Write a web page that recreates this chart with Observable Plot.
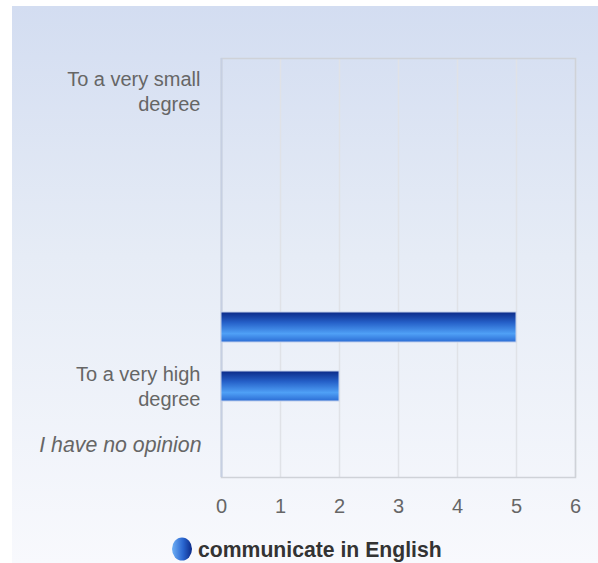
<!DOCTYPE html>
<html>
<head>
<meta charset="utf-8">
<script src="https://cdn.jsdelivr.net/npm/d3@7"></script>
<script src="https://cdn.jsdelivr.net/npm/@observablehq/plot@0.6"></script>
<style>
  html, body { margin: 0; padding: 0; background: #fff; }
  body { width: 598px; height: 563px; position: relative; overflow: hidden; font-family: "Liberation Sans", Arial, sans-serif; }
  #panel { position: absolute; left: 12px; top: 6px; width: 586px; height: 557px;
    background: linear-gradient(to bottom, #d3ddf1 0%, #e6ecf6 45%, #f8f9fd 100%); }
  #chart { position: absolute; left: 0; top: 0; }
  #legend { position: absolute; left: 0; top: 537px; width: 598px; height: 26px; }
</style>
</head>
<body>
<div id="panel"></div>
<div id="chart"></div>
<div id="legend"></div>
<script>
const categories = ["To a very small degree", "2", "3", "4", "5", "To a very high degree", "I have no opinion"];
const labels = ["To a very small\ndegree", "", "", "", "", "To a very high\ndegree", "I have no opinion"];
const values = [0, 0, 0, 0, 5, 2, 0];
const xTicks = [0, 1, 2, 3, 4, 5, 6];
const seriesName = "communicate in English";

const data = categories.map((c, i) => ({category: c, value: values[i]}));
const labelOf = c => labels[categories.indexOf(c)];
const normalCats = categories.filter(c => c !== "I have no opinion");

const plot = Plot.plot({
  width: 598,
  height: 525,
  marginLeft: 221,
  marginRight: 23,
  marginTop: 58,
  marginBottom: 48,
  style: {background: "transparent", fontFamily: "'Liberation Sans', Arial, sans-serif", fontSize: "20px", color: "#666"},
  x: {domain: [0, 6], ticks: xTicks},
  y: {domain: categories, paddingInner: 0.5, paddingOuter: 0.25},
  marks: [
    Plot.gridX(xTicks, {stroke: "#e0e2e7", strokeOpacity: 1, strokeWidth: 1.5}),
    Plot.frame({stroke: "#cfd2d8", strokeWidth: 1.5}),
    Plot.ruleX([0], {stroke: "#c6cfe2", strokeWidth: 2}),
    Plot.barX(data.filter(d => d.value > 0), {x: d => d.value, y: "category", fill: "url(#barGrad)", stroke: "#c2d0ec", strokeWidth: 1}),
    Plot.axisX(xTicks, {tickSize: 0, tickPadding: 21, fontSize: 20, fill: "#666", label: null}),
    Plot.axisY(normalCats, {tickSize: 0, tickPadding: 21, fontSize: 20, fill: "#666", label: null, tickFormat: labelOf, lineHeight: 1.25, dy: -1}),
    Plot.axisY(["I have no opinion"], {tickSize: 0, tickPadding: 20, fontSize: 21.3, fill: "#666", label: null, fontStyle: "italic", tickFormat: labelOf})
  ]
});

const ns = "http://www.w3.org/2000/svg";
const defs = document.createElementNS(ns, "defs");
defs.innerHTML = `
  <linearGradient id="barGrad" x1="0" y1="0" x2="0" y2="1">
    <stop offset="0%" stop-color="#0b2a88"/>
    <stop offset="35%" stop-color="#2560c8"/>
    <stop offset="72%" stop-color="#4fa0f6"/>
    <stop offset="100%" stop-color="#2b6cd4"/>
  </linearGradient>`;
plot.insertBefore(defs, plot.firstChild);
document.getElementById("chart").appendChild(plot);

// Legend
const legend = d3.select("#legend").append("svg").attr("width", 598).attr("height", 26);
const lg = legend.append("defs").append("linearGradient").attr("id", "legGrad").attr("x1", 0).attr("x2", 1).attr("y1", 0).attr("y2", 0);
lg.append("stop").attr("offset", "0%").attr("stop-color", "#6fb0f5");
lg.append("stop").attr("offset", "55%").attr("stop-color", "#2a66d0");
lg.append("stop").attr("offset", "100%").attr("stop-color", "#0b2a88");
legend.append("ellipse").attr("cx", 182).attr("cy", 12).attr("rx", 10).attr("ry", 11.5).attr("fill", "url(#legGrad)");
legend.append("text").attr("x", 198).attr("y", 19.5).attr("font-size", 21.2).attr("font-weight", "bold")
  .attr("fill", "#333").attr("font-family", "'Liberation Sans', Arial, sans-serif").text(seriesName);
</script>
</body>
</html>
